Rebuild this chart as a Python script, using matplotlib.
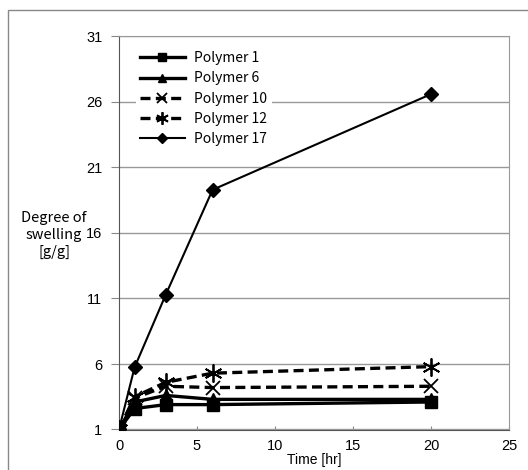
import matplotlib.pyplot as plt
from matplotlib.patches import Rectangle

plt.rcParams['font.family'] = ['Liberation Sans', 'DejaVu Sans']

time_hr = [0, 1, 3, 6, 20]
polymer1 = [1, 2.6, 2.9, 2.9, 3.1]
polymer6 = [1, 3.1, 3.6, 3.3, 3.3]
polymer10 = [1, 3.4, 4.3, 4.2, 4.3]
polymer12 = [1, 3.5, 4.6, 5.3, 5.8]
polymer17 = [1, 5.75, 11.3, 19.3, 26.6]

yticks = [1, 6, 11, 16, 21, 26, 31]
xticks = [0, 5, 10, 15, 20, 25]

W, H = 528, 470
fig = plt.figure(figsize=(W / 100, H / 100), dpi=100)
ax = fig.add_axes([119 / W, 1 - 429.5 / H, (509 - 119) / W, (429.5 - 36.5) / H])

# outer chart-area border (only left/top visible in the reference)
fig.patches.append(Rectangle((8 / W, -0.1), 1.2, 1 - 10 / H + 0.1,
                             transform=fig.transFigure, fill=False,
                             edgecolor='#888888', lw=1))

ax.plot(time_hr, polymer1, color='black', lw=2.4, marker='s', ms=8, label='Polymer 1', zorder=5)
ax.plot(time_hr, polymer6, color='black', lw=2.4, marker='^', ms=8, label='Polymer 6', zorder=5)
ax.plot(time_hr, polymer10, color='black', lw=2.4, ls=(0, (3, 1.6)), marker='x', ms=10, mew=1.3,
        label='Polymer 10', zorder=5)
ax.plot(time_hr, polymer12, color='black', lw=2.4, ls=(0, (3, 1.6)), marker=(6, 2, 0), ms=13, mew=1.3,
        label='Polymer 12', zorder=5)
ax.plot(time_hr, polymer17, color='black', lw=1.5, marker='D', ms=7, label='Polymer 17', zorder=5)

ax.set_xlim(0, 25)
ax.set_ylim(1, 31)
ax.set_xticks(xticks)
ax.set_yticks(yticks)
ax.tick_params(axis='x', direction='in', length=3, color='#888888', labelsize=10.5, pad=7)
ax.tick_params(axis='y', direction='out', length=6, color='#888888', labelsize=10.5, pad=6)
ax.grid(axis='y', color='#999999', lw=1)
ax.set_axisbelow(True)
for s in ['top', 'right']:
    ax.spines[s].set_color('#999999')
ax.spines['left'].set_color('#555555')
ax.spines['bottom'].set_color('#555555')

ax.set_xlabel('Time [hr]', fontsize=10, labelpad=0)
fig.text(54 / W, 1 - 235 / H, 'Degree of\nswelling\n[g/g]', ha='center', va='center',
         fontsize=10.5, linespacing=1.3,
         family=['Noto Sans CJK JP', 'DejaVu Sans'])

leg = ax.legend(loc='upper left', bbox_to_anchor=(136 / W, 1 - 47 / H),
                bbox_transform=fig.transFigure, frameon=True, fancybox=False,
                edgecolor='none', facecolor='white', framealpha=1,
                handlelength=3.2, handletextpad=0.7, markerscale=0.7,
                labelspacing=0.45, borderpad=0.3, borderaxespad=0,
                prop={'family': ['Noto Sans CJK JP', 'DejaVu Sans'], 'size': 10})

fig.savefig('out.png', dpi=100)
